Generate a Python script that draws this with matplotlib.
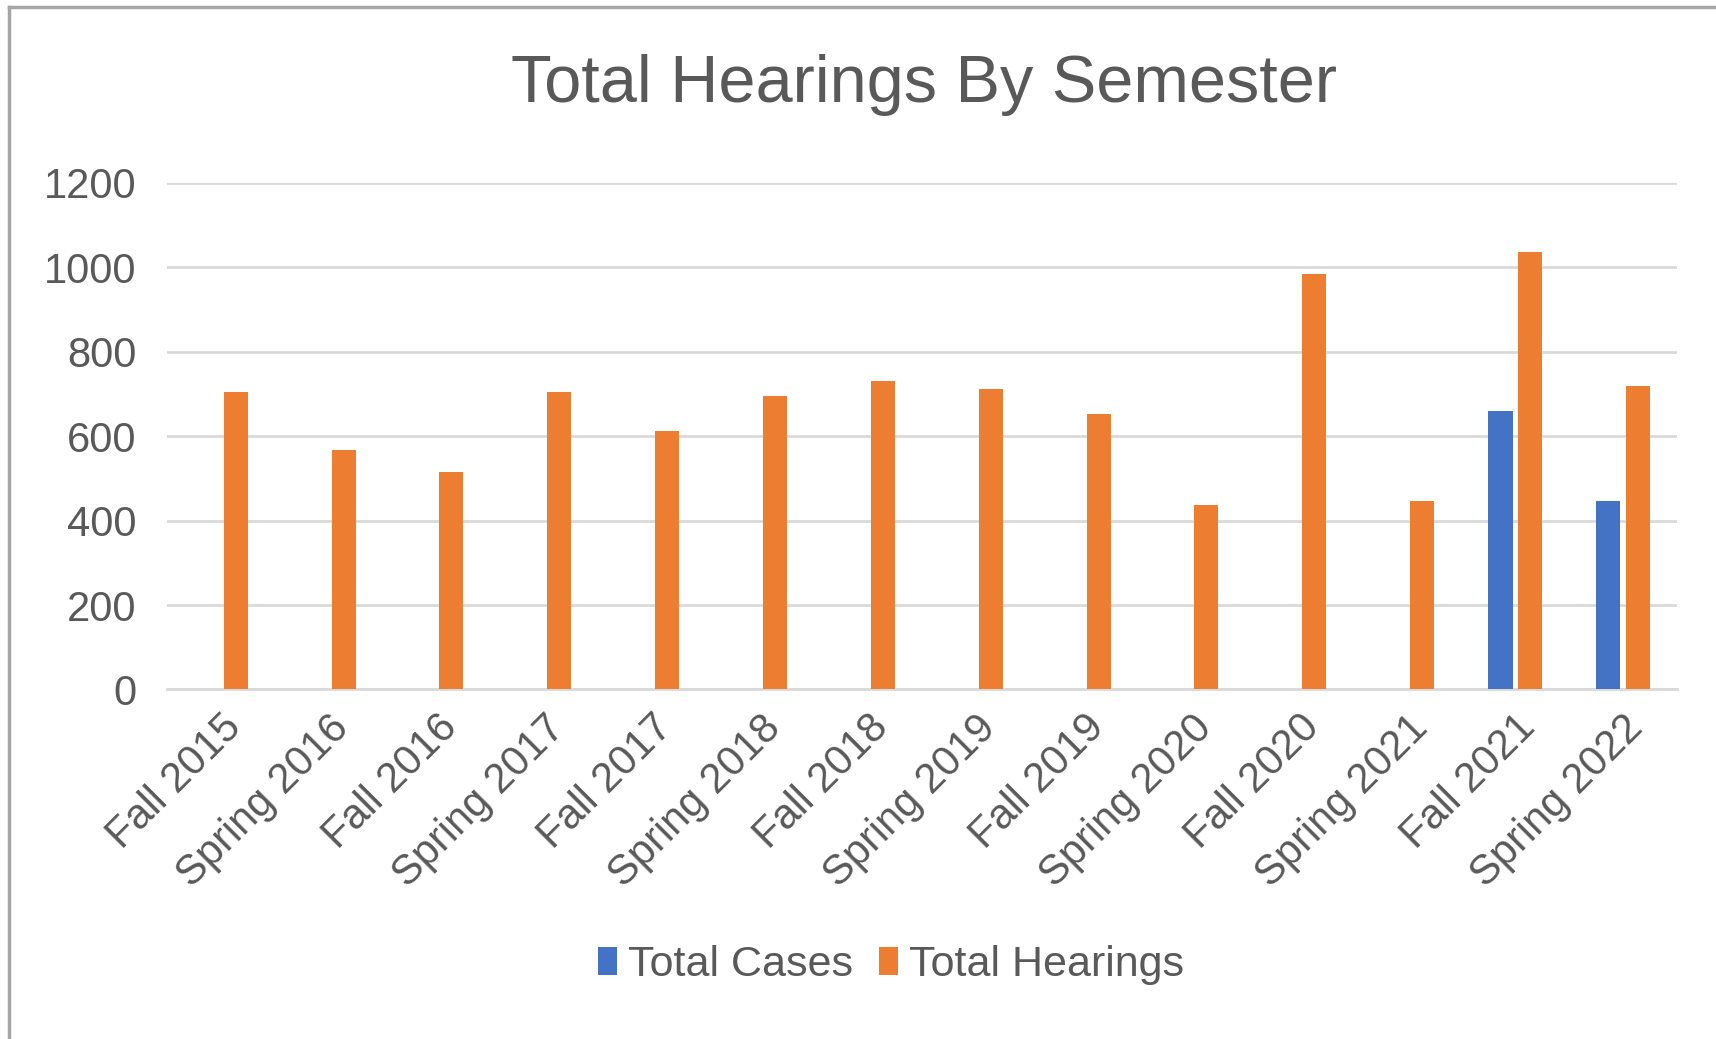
import numpy as np
import matplotlib
matplotlib.use('Agg')
import matplotlib.pyplot as plt
from matplotlib.lines import Line2D

plt.rcParams['font.family'] = ['Liberation Sans', 'DejaVu Sans']

# ----------------------------------------------------------------------
# data
# ----------------------------------------------------------------------
semesters = ['Fall 2015', 'Spring 2016', 'Fall 2016', 'Spring 2017', 'Fall 2017',
             'Spring 2018', 'Fall 2018', 'Spring 2019', 'Fall 2019', 'Spring 2020',
             'Fall 2020', 'Spring 2021', 'Fall 2021', 'Spring 2022']
total_cases = [np.nan] * 12 + [660, 447]
total_hearings = [705, 568, 515, 705, 612, 695, 730, 712, 652, 438, 985, 447, 1037, 720]
y_ticks = [0, 200, 400, 600, 800, 1000, 1200]

text_color = '#595959'
blue = '#4472C4'
orange = '#ED7D31'

# ----------------------------------------------------------------------
# plot
# ----------------------------------------------------------------------
fig = plt.figure(figsize=(17.16, 10.39), dpi=100)
ax = fig.add_axes([0.0973, 0.3364, 0.880, 0.4876])

x = np.arange(len(semesters))
bar_w = 0.223
ax.bar(x - 0.137, total_cases, width=bar_w, color=blue, label='Total Cases', zorder=3)
ax.bar(x + 0.137, total_hearings, width=bar_w, color=orange, label='Total Hearings', zorder=3)

ax.set_xlim(-0.5, len(semesters) - 0.5)
ax.set_ylim(0, 1200)
ax.set_yticks(y_ticks)
ax.set_yticklabels([str(v) for v in y_ticks], fontsize=30, color=text_color)
ax.set_xticks(x)
ax.set_xticklabels(semesters, rotation=45, ha='right', rotation_mode='anchor',
                   fontsize=30, color=text_color)
ax.tick_params(axis='y', length=0, pad=22)
ax.tick_params(axis='x', length=0, pad=13)

ax.grid(True, axis='y', color='#d9d9d9', linewidth=2, zorder=0)
for s in ['top', 'right', 'left']:
    ax.spines[s].set_visible(False)
ax.spines['bottom'].set_color('#d9d9d9')
ax.spines['bottom'].set_linewidth(2)

fig.text(0.5385, 0.918, 'Total Hearings By Semester', ha='center', va='center',
         fontsize=48, color=text_color)

fig.legend(loc='center', bbox_to_anchor=(0.519, 0.071), ncol=2, frameon=False,
           fontsize=31, handlelength=0.45, handleheight=0.65, handletextpad=0.25,
           columnspacing=0.6, labelcolor=text_color)

# chart border (left and top edges visible in the screenshot)
fig.add_artist(Line2D([0.0055, 0.0055], [0.0, 0.9935], transform=fig.transFigure,
                      color='#a6a6a6', linewidth=2.5))
fig.add_artist(Line2D([0.0055, 1.0], [0.9935, 0.9935], transform=fig.transFigure,
                      color='#a6a6a6', linewidth=2.5))

plt.savefig('out.png', dpi=100)
